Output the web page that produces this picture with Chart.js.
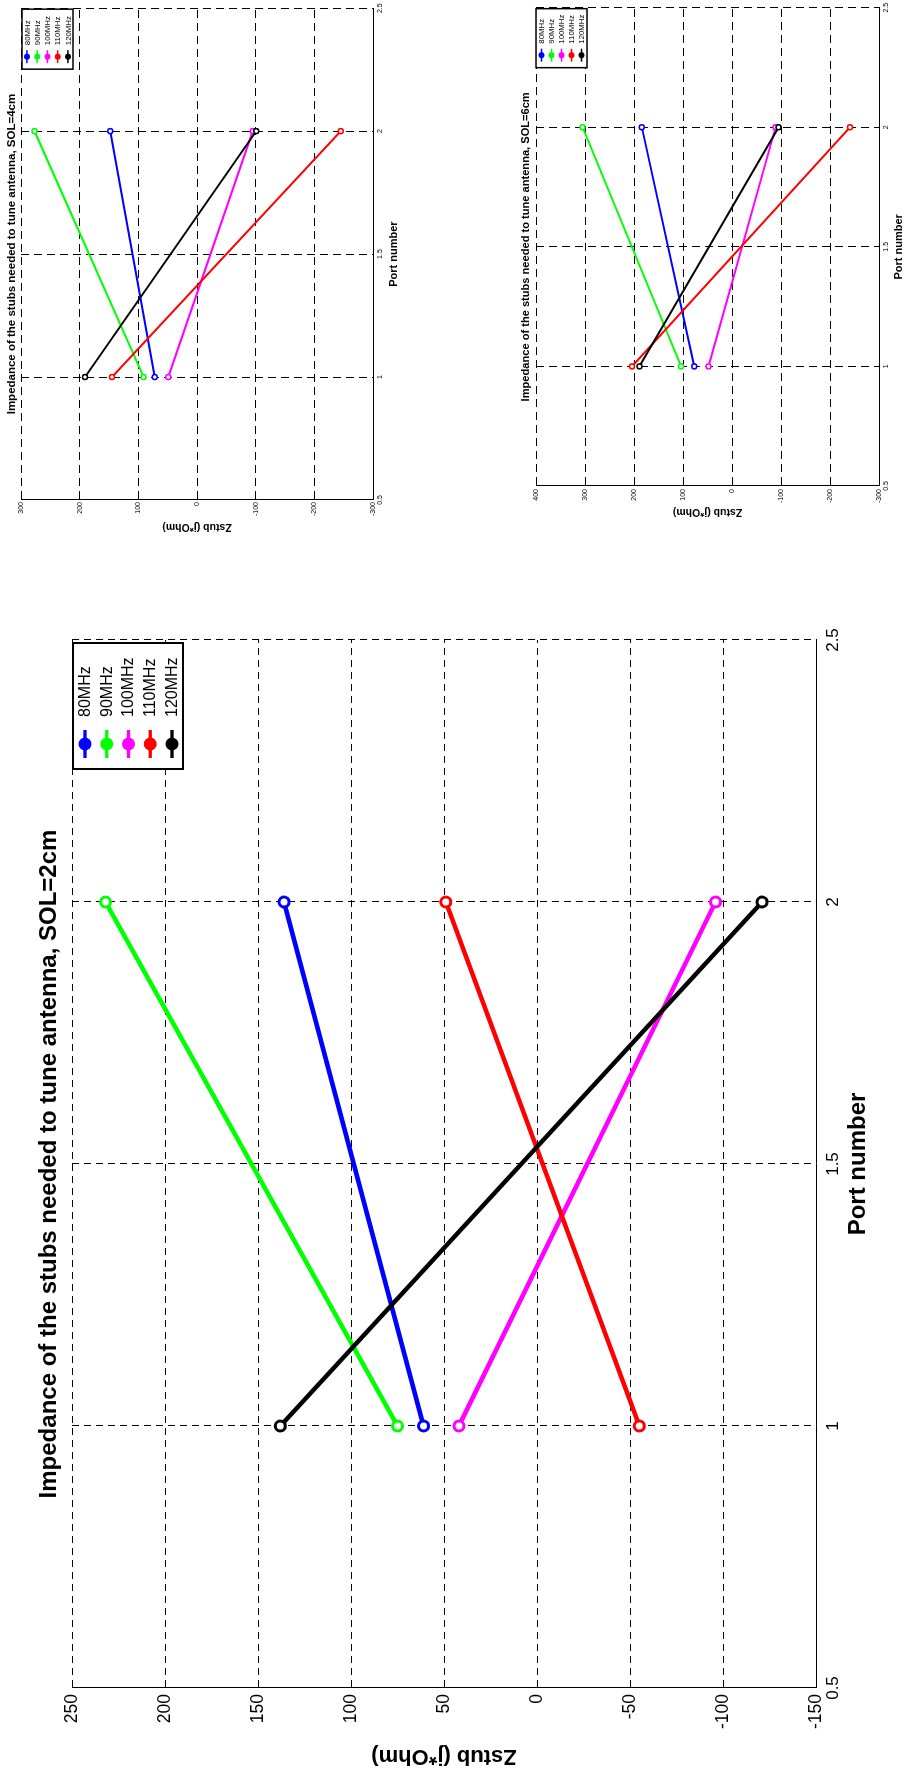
<!DOCTYPE html>
<html>
<head>
<meta charset="utf-8">
<title>Impedance of the stubs needed to tune antenna</title>
<script src="https://cdn.jsdelivr.net/npm/chart.js@4/dist/chart.umd.min.js"></script>
<style>
  html, body { margin: 0; padding: 0; background: #fff; }
  body { width: 906px; height: 1769px; position: relative; overflow: hidden; }
  .panel { position: absolute; left: 0; top: 0; transform-origin: 0 0; }
  canvas { display: block; }
</style>
</head>
<body>
<!-- each figure is laid out landscape and turned a quarter turn counter-clockwise -->
<div class="panel" style="transform: translate(0px, 540px) rotate(-90deg);"><canvas id="c4" width="540" height="410"></canvas></div>
<div class="panel" style="transform: translate(515px, 525px) rotate(-90deg);"><canvas id="c6" width="525" height="391"></canvas></div>
<div class="panel" style="transform: translate(0px, 1769px) rotate(-90deg);"><canvas id="c2" width="1149" height="906"></canvas></div>

<script>
// ---- data ----
const portNumbers = [1, 2];
const portTicks = [0.5, 1, 1.5, 2, 2.5];
const frequencies = ['80MHz', '90MHz', '100MHz', '110MHz', '120MHz'];
const seriesColors = ['#0000ff', '#00ff00', '#ff00ff', '#ff0000', '#000000'];

// stub impedance (j*Ohm) per frequency, at port 1 and port 2
const zstub2cmPort1 = [61, 75, 42, -55, 138];
const zstub2cmPort2 = [136, 232, -96, 49, -121];
const zstub4cmPort1 = [72, 91, 49, 145, 191];
const zstub4cmPort2 = [148, 277, -95, -245, -101];
const zstub6cmPort1 = [77, 104, 48, 204, 189];
const zstub6cmPort2 = [184, 305, -89, -241, -95];

const zTicks2cm = [-150, -100, -50, 0, 50, 100, 150, 200, 250];
const zTicks4cm = [-300, -200, -100, 0, 100, 200, 300];
const zTicks6cm = [-300, -200, -100, 0, 100, 200, 300, 400];

// ---- drawing ----
const FAMILY = "'Liberation Sans', Arial, Helvetica, sans-serif";

// boxed legend in the upper-right corner of the plot area
const boxLegend = {
  id: 'boxLegend',
  afterDatasetsDraw(chart, args, o) {
    const { ctx, chartArea: a } = chart;
    const x0 = a.right - o.inset[0] - o.w;
    const y0 = a.top + o.inset[1];
    ctx.save();
    ctx.setLineDash([]);
    ctx.fillStyle = '#fff';
    ctx.fillRect(x0, y0, o.w, o.h);
    ctx.lineWidth = o.border;
    ctx.strokeStyle = '#000';
    ctx.strokeRect(x0, y0, o.w, o.h);
    chart.data.datasets.forEach((ds, i) => {
      const y = y0 + o.first + i * o.gap;
      const cx = x0 + o.sym;
      ctx.strokeStyle = ds.borderColor;
      ctx.lineWidth = o.lineW;
      ctx.beginPath();
      ctx.moveTo(cx - o.half, y);
      ctx.lineTo(cx + o.half, y);
      ctx.stroke();
      ctx.fillStyle = ds.borderColor;
      ctx.beginPath();
      ctx.arc(cx, y, o.r, 0, Math.PI * 2);
      ctx.fill();
      ctx.fillStyle = '#000';
      ctx.font = o.font + 'px ' + FAMILY;
      ctx.textAlign = 'left';
      ctx.textBaseline = 'middle';
      ctx.fillText(ds.label, x0 + o.text, y + 0.5);
    });
    ctx.restore();
  }
};

function buildChart(id, s) {
  const datasets = frequencies.map((f, i) => ({
    label: f,
    data: portNumbers.map((p, j) => ({ x: p, y: (j === 0 ? s.port1 : s.port2)[i] })),
    borderColor: seriesColors[i],
    backgroundColor: seriesColors[i],
    borderWidth: s.lineWidth,
    pointRadius: s.pointRadius,
    pointBorderWidth: s.pointBorder,
    pointBackgroundColor: '#fff',
    pointBorderColor: seriesColors[i],
    pointStyle: 'circle',
    tension: 0,
    order: frequencies.length - i
  }));

  return new Chart(document.getElementById(id), {
    type: 'line',
    data: { datasets },
    plugins: [boxLegend],
    options: {
      responsive: false,
      maintainAspectRatio: false,
      animation: false,
      devicePixelRatio: 1,
      events: [],
      layout: { autoPadding: false, padding: { top: 0, left: 0, right: s.rightPad, bottom: 0 } },
      plugins: {
        legend: { display: false },
        tooltip: { enabled: false },
        title: {
          display: true,
          text: s.title,
          fullSize: false,
          color: '#000',
          font: { family: FAMILY, size: s.titleFont, weight: 'bold', lineHeight: 1.2 },
          padding: s.titlePad
        },
        boxLegend: s.legend
      },
      scales: {
        x: {
          type: 'linear',
          position: 'bottom',
          min: portTicks[0],
          max: portTicks[portTicks.length - 1],
          afterBuildTicks: sc => { sc.ticks = portTicks.map(v => ({ value: v })); },
          afterFit: sc => { sc.height = s.xAxisHeight; },
          grid: { color: '#000', lineWidth: 1, drawTicks: false },
          border: { display: true, color: '#000', width: 1, dash: s.dash },
          ticks: {
            color: '#000', autoSkip: false, maxRotation: 0, padding: s.xTickPad,
            font: { family: FAMILY, size: s.xTickFont, lineHeight: 1.2 },
            callback: v => String(v)
          },
          title: {
            display: true, text: 'Port number', color: '#000',
            font: { family: FAMILY, size: s.xTitleFont, weight: 'bold', lineHeight: 1.2 },
            padding: { top: 0, bottom: s.xTitlePad }
          }
        },
        y: {
          type: 'linear',
          position: 'left',
          min: s.zTicks[0],
          max: s.zTicks[s.zTicks.length - 1],
          afterBuildTicks: sc => { sc.ticks = s.zTicks.map(v => ({ value: v })); },
          afterFit: sc => { sc.width = s.yAxisWidth; },
          grid: { color: '#000', lineWidth: 1, drawTicks: false },
          border: { display: true, color: '#000', width: 1, dash: s.dash },
          ticks: {
            color: '#000', autoSkip: false, padding: s.yTickPad,
            font: { family: FAMILY, size: s.yTickFont, lineHeight: 1.2 },
            callback: v => String(v)
          },
          title: {
            display: true, text: 'Zstub (j*Ohm)', color: '#000',
            font: { family: FAMILY, size: s.yTitleFont, weight: 'bold', lineHeight: 1.2 },
            padding: { top: s.yTitlePad, bottom: 0 }
          }
        }
      }
    }
  });
}

// SOL = 4 cm
buildChart('c4', {
  title: 'Impedance of the stubs needed to tune antenna, SOL=4cm',
  port1: zstub4cmPort1, port2: zstub4cmPort2, zTicks: zTicks4cm,
  titleFont: 11.5, titlePad: { top: 4.6, bottom: 2.6 },
  rightPad: 5, yAxisWidth: 40, xAxisHeight: 37,
  xTickFont: 7, xTickPad: 3.3, yTickFont: 7, yTickPad: 2,
  xTitleFont: 11, xTitlePad: 9.4, yTitleFont: 10.5, yTitlePad: 6.7,
  lineWidth: 2, pointRadius: 2.5, pointBorder: 1.5, dash: [8, 5],
  legend: { w: 60, h: 51, inset: [1, 1], first: 4.9, gap: 10.25, sym: 12.5, half: 6.5,
            r: 3, lineW: 1.5, text: 24, font: 7.8, border: 1.5 }
});

// SOL = 6 cm
buildChart('c6', {
  title: 'Impedance of the stubs needed to tune antenna, SOL=6cm',
  port1: zstub6cmPort1, port2: zstub6cmPort2, zTicks: zTicks6cm,
  titleFont: 11.1, titlePad: { top: 4.35, bottom: 3.35 },
  rightPad: 3.5, yAxisWidth: 39, xAxisHeight: 27,
  xTickFont: 7, xTickPad: 2.8, yTickFont: 7, yTickPad: 3,
  xTitleFont: 11, xTitlePad: 0.9, yTitleFont: 10.5, yTitlePad: 7.2,
  lineWidth: 2, pointRadius: 2.5, pointBorder: 1.5, dash: [8, 5],
  legend: { w: 59, h: 51, inset: [1, 0], first: 5.5, gap: 10, sym: 12.5, half: 6.5,
            r: 3, lineW: 1.5, text: 24, font: 7.8, border: 1.5 }
});

// SOL = 2 cm
buildChart('c2', {
  title: 'Impedance of the stubs needed to tune antenna, SOL=2cm',
  port1: zstub2cmPort1, port2: zstub2cmPort2, zTicks: zTicks2cm,
  titleFont: 24, titlePad: { top: 34.6, bottom: 8.6 },
  rightPad: 20, yAxisWidth: 81, xAxisHeight: 90,
  xTickFont: 17, xTickPad: 7, yTickFont: 17.5, yTickPad: 6,
  xTitleFont: 24, xTitlePad: 33.6, yTitleFont: 22, yTitlePad: 0,
  lineWidth: 4.5, pointRadius: 5, pointBorder: 3, dash: [7, 5],
  legend: { w: 126, h: 110, inset: [3, 1], first: 12, gap: 21.75, sym: 25, half: 14,
            r: 6.5, lineW: 3.3, text: 52, font: 16, border: 2 }
});
</script>
</body>
</html>
